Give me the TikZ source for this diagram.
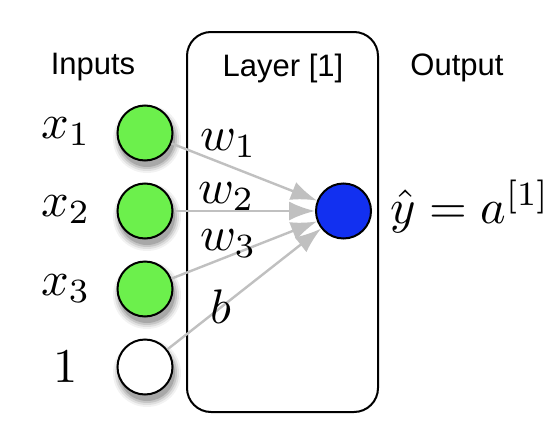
\documentclass[tikz,border=0pt]{standalone}
\usepackage{amsmath}
\usepackage{fontspec}
\newfontfamily\headfont{Liberation Sans}
\usetikzlibrary{arrows.meta}
\definecolor{ingreen}{RGB}{108,240,76}
\definecolor{outblue}{RGB}{18,48,240}
\definecolor{wgray}{RGB}{192,192,192}
\newcommand{\bigmath}[1]{\scalebox{4.85}{$#1$}}
\newcommand{\tsz}{\headfont\fontsize{31}{34}\selectfont}
\tikzset{
  neuron/.style={circle, draw=black, line width=2pt, minimum size=55pt, inner sep=0pt},
  innode/.style={neuron, fill=ingreen},
  onenode/.style={neuron, fill=white},
  outnode/.style={neuron, fill=outblue},
  conn/.style={draw=wgray, line width=2.4pt, -{Latex[length=26pt,width=19pt]}},
  head/.style={font=\tsz, anchor=base, inner sep=0pt},
  mlab/.style={anchor=base, inner sep=0pt},
  layerbox/.style={draw=black, line width=2pt, rounded corners=24pt},
}
\newcommand{\softshadow}[2]{%
  \foreach \r/\o in {34/0.05,32/0.08,30/0.11,28/0.15}{%
    \fill[black, opacity=\o] (#1+2,#2+6) circle (\r pt);}}
\begin{document}
\begin{tikzpicture}[x=1pt,y=-1pt]
\useasboundingbox (0,0) rectangle (552,442);
\fill[white] (0,0) rectangle (552,442);
% layer box
\draw[layerbox] (187,32) rectangle (378,412);
% headers
\node[head] (hin) at (93,74) {Inputs};
\node[head] (hlay) at (283,76) {Layer [1]};
\node[head] (hout) at (457,75) {Output};
% shadows
\softshadow{145}{133}
\softshadow{145}{211}
\softshadow{145}{289}
\softshadow{145}{367}
% neurons
\node[innode] (x1) at (145,133) {};
\node[innode] (x2) at (145,211) {};
\node[innode] (x3) at (145,289) {};
\node[onenode] (one) at (145,367) {};
\node[outnode] (out) at (343.5,211) {};
% connectors
\draw[conn] (x1) -- (out);
\draw[conn] (x2) -- (out);
\draw[conn] (x3) -- (out);
\draw[conn] (one) -- (out);
% input labels
\node[mlab] (lx1) at (66,138) {\bigmath{x_1}};
\node[mlab] (lx2) at (66,216) {\bigmath{x_2}};
\node[mlab] (lx3) at (66,295) {\bigmath{x_3}};
\node[mlab] (l1) at (66,382) {\bigmath{1}};
% weight labels
\node[mlab, anchor=base west] (w1) at (200,150) {\bigmath{w_1}};
\node[mlab, anchor=base west] (w2) at (198,203) {\bigmath{w_2}};
\node[mlab, anchor=base west] (w3) at (200,250) {\bigmath{w_3}};
\node[mlab, anchor=base west] (bl) at (210,323) {\bigmath{b}};
% output label
\node[mlab, anchor=base west] (yl) at (390,223) {\bigmath{\hat{y} = a^{[1]}}};
\end{tikzpicture}
\end{document}
